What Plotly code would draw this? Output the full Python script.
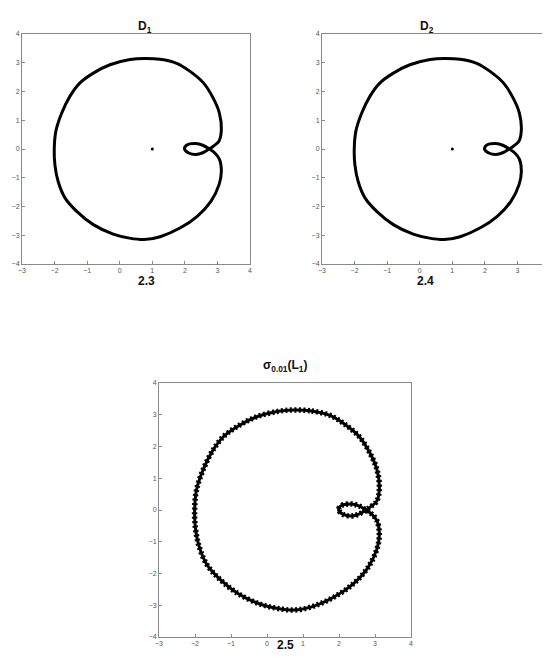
import plotly.graph_objects as go

# curve points (clockwise from the top)
curve_x = [0.75, 1.24, 1.75, 2.16, 2.57, 2.87, 3.06, 3.12, 3.05, 2.90, 2.75, 2.55, 2.34, 2.12,
           1.99, 2.05, 2.34, 2.55, 2.75, 2.92, 3.06, 3.12, 3.05, 2.80, 2.38, 1.85, 1.24, 0.75,
           0.30, -0.20, -0.81, -1.32, -1.68, -1.89, -1.99, -2.01, -1.96, -1.78, -1.53, -1.22,
           -0.81, -0.30, 0.32, 0.75]
curve_y = [3.15, 3.12, 2.98, 2.70, 2.30, 1.77, 1.25, 0.67, 0.28, 0.12, 0.00, -0.13, -0.19, -0.14,
           0.00, 0.13, 0.19, 0.13, 0.00, -0.14, -0.35, -0.78, -1.24, -1.82, -2.34, -2.75, -3.05,
           -3.15, -3.10, -2.96, -2.63, -2.17, -1.70, -1.13, -0.55, 0.00, 0.62, 1.25, 1.83, 2.30,
           2.64, 2.93, 3.11, 3.15]
centre_x = [1.0]
centre_y = [0.0]

x_ticks = [-3, -2, -1, 0, 1, 2, 3, 4]
y_ticks = [-4, -3, -2, -1, 0, 1, 2, 3, 4]
titles = ["<b>D<sub>1</sub></b>", "<b>D<sub>2</sub></b>", "<b>σ<sub>0.01</sub>(L<sub>1</sub>)</b>"]
captions = ["<b>2.3</b>", "<b>2.4</b>", "<b>2.5</b>"]

# the page has an 8px body margin, so work in page pixels and shift back
OFF = 8
W, H = 550 - OFF, 662 - OFF
# panel boxes in page pixels: left, right, top, bottom
boxes = [(22, 250, 34, 264), (322, 550, 34, 264), (159, 411, 383, 637)]

fig = go.Figure()
for i, (l, r, t, b) in enumerate(boxes):
    l, r, t, b = l - OFF, r - OFF, t - OFF, b - OFF
    n = "" if i == 0 else str(i + 1)
    xa, ya = "x" + n, "y" + n
    fig.add_trace(go.Scatter(x=curve_x, y=curve_y, mode="lines", xaxis=xa, yaxis=ya,
                             line=dict(color="black", width=3, shape="spline", smoothing=1.0),
                             showlegend=False, hoverinfo="skip"))
    if i < 2:
        fig.add_trace(go.Scatter(x=centre_x, y=centre_y, mode="markers", xaxis=xa, yaxis=ya,
                                 marker=dict(color="black", size=3), showlegend=False))
    else:
        # star markers along the curve
        fig.add_trace(go.Scatter(x=curve_x, y=curve_y, mode="lines", xaxis=xa, yaxis=ya,
                                 line=dict(color="black", width=5.5, shape="spline", smoothing=1.0,
                                           dash="2px,2.5px"),
                                 showlegend=False, hoverinfo="skip"))
    axis = dict(showgrid=False, zeroline=False, showline=True, mirror=True, linecolor="#8a8a8a",
                linewidth=1, ticks="inside", ticklen=3, tickcolor="#8a8a8a", automargin=False,
                tickfont=dict(family="Liberation Sans", size=7, color="#555"))
    fig.layout["xaxis" + n] = dict(axis, domain=[l / W, min(r / W, 1)], range=[-3, 4],
                                   tickvals=x_ticks, anchor=ya)
    fig.layout["yaxis" + n] = dict(axis, domain=[1 - b / H, 1 - t / H], range=[-4, 4],
                                   tickvals=y_ticks, anchor=xa)
    cx = (l + r) / 2 / W
    fig.add_annotation(text=titles[i], x=cx, y=1 - (t - 17) / H, xref="paper", yref="paper",
                       showarrow=False, font=dict(family="Liberation Sans", size=12, color="#111"))
    fig.add_annotation(text=captions[i], x=cx, y=1 - (b + 17) / H, xref="paper", yref="paper",
                       showarrow=False, font=dict(family="Liberation Sans", size=12, color="#111"))

fig.update_layout(width=W, height=H, margin=dict(l=0, r=0, t=0, b=0),
                  paper_bgcolor="white", plot_bgcolor="white")
fig.write_html("out.html")
